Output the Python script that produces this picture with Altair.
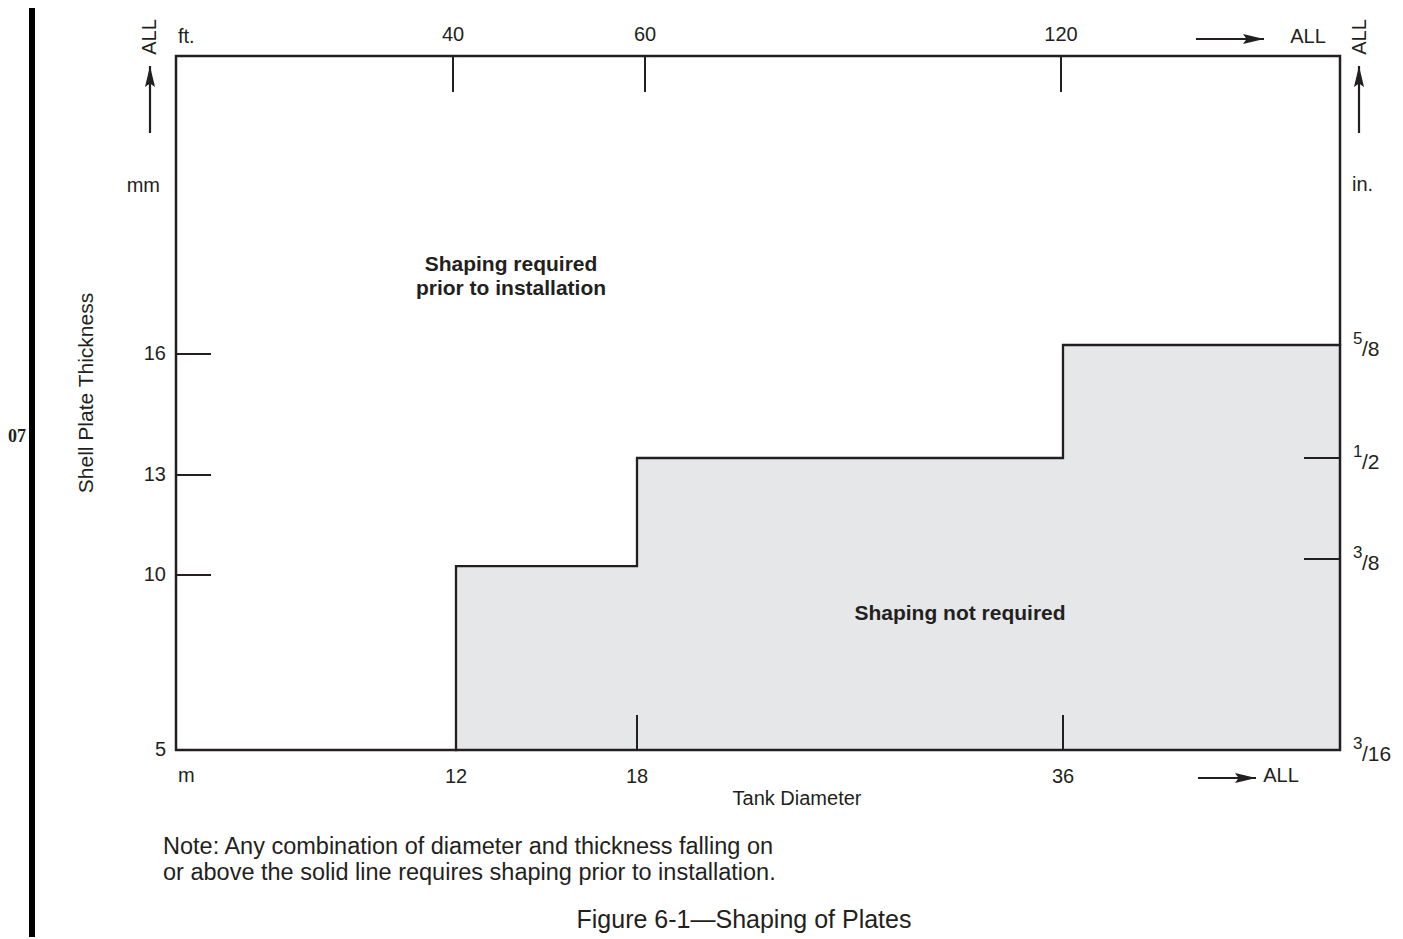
import altair as alt
import pandas as pd

# ---------------- data ----------------
DIAM_ALL_M = 48          # stand-in value for the "ALL" end of the diameter axis (m)
DIAM_ALL_FT = 160        # same for the ft scale
THICK_ALL_IN = 1.0       # stand-in value for the "ALL" end of the thickness axis (in.)
THICK_ALL_MM = 25        # same for the mm scale

DIAM_LABELS_M = [12, 18, 36]
DIAM_TICKS_M = [18, 36]
DIAM_LABELS_FT = [40, 60, 120]
THICK_LABELS_MM = [5, 10, 13, 16]
THICK_TICKS_MM = [10, 13, 16]
THICK_IN_NUM = ["3", "3", "1", "5"]
THICK_IN_DEN = ["/16", "/8", "/2", "/8"]
THICK_IN_VAL = [0.1875, 0.375, 0.5, 0.625]
THICK_TICKS_IN = [0.375, 0.5]

STEP_START_M = [12, 18, 36]
STEP_END_M = [18, 36, DIAM_ALL_M]
STEP_THICK_IN = [0.368, 0.5, 0.625]

REGION_ABOVE = "Shaping required\nprior to installation"
REGION_BELOW = "Shaping not required"
X_TITLE = "Tank Diameter"
Y_TITLE = "Shell Plate Thickness"
NOTE = ("Note: Any combination of diameter and thickness falling on\n"
        "or above the solid line requires shaping prior to installation.")
CAPTION = "Figure  6-1\u2014Shaping of Plates"
REV_MARK = "07"

# ---------------- styling ----------------
INK = "#231f20"
FILL = "#e6e7e8"
SANS = "Liberation Sans"
W, H = 1164, 694

# piecewise scales (the figure's axes are not uniform)
x_m = alt.Scale(domain=[0, 12, 18, 36, DIAM_ALL_M], range=[0, 280, 461, 887, W], zero=False, nice=False)
x_ft = alt.Scale(domain=[0, 40, 60, 120, DIAM_ALL_FT], range=[0, 277, 469, 885, W], zero=False, nice=False)
y_in = alt.Scale(domain=[0.1875, 0.375, 0.5, 0.625, THICK_ALL_IN], range=[H, 503, 402, 289, 0], zero=False, nice=False)
y_mm = alt.Scale(domain=[5, 10, 13, 16, THICK_ALL_MM], range=[H, 519, 419, 298, 0], zero=False, nice=False)

BASE = THICK_IN_VAL[0]

steps = pd.DataFrame({"x": STEP_START_M, "x2": STEP_END_M, "y": STEP_THICK_IN, "base": [BASE] * 3})

pts_x, pts_y = [STEP_START_M[0]], [BASE]
for s, e, t in zip(STEP_START_M, STEP_END_M, STEP_THICK_IN):
    pts_x += [s, e]
    pts_y += [t, t]
outline = pd.DataFrame({"x": pts_x, "y": pts_y, "i": range(len(pts_x))})

frame = pd.DataFrame({"x": [0], "x2": [DIAM_ALL_M], "y": [BASE], "y2": [THICK_ALL_IN]})

layers = []

# grey region
layers.append(alt.Chart(steps).mark_rect(color=FILL).encode(
    x=alt.X("x:Q", scale=x_m, axis=None), x2="x2:Q",
    y=alt.Y("y:Q", scale=y_in, axis=None), y2="base:Q"))

# step line
layers.append(alt.Chart(outline).mark_line(color=INK, strokeWidth=2.3, strokeJoin="miter", strokeCap="square").encode(
    x=alt.X("x:Q", scale=x_m, axis=None),
    y=alt.Y("y:Q", scale=y_in, axis=None), order="i:Q"))

# ticks
layers.append(alt.Chart(pd.DataFrame({"v": DIAM_LABELS_FT})).mark_rule(color=INK, strokeWidth=2).encode(
    x=alt.X("v:Q", scale=x_ft, axis=None), y=alt.value(0), y2=alt.value(36)))
layers.append(alt.Chart(pd.DataFrame({"v": DIAM_TICKS_M})).mark_rule(color=INK, strokeWidth=2).encode(
    x=alt.X("v:Q", scale=x_m, axis=None), y=alt.value(H - 35), y2=alt.value(H)))
layers.append(alt.Chart(pd.DataFrame({"v": THICK_TICKS_MM})).mark_rule(color=INK, strokeWidth=2).encode(
    y=alt.Y("v:Q", scale=y_mm, axis=None), x=alt.value(0), x2=alt.value(35)))
layers.append(alt.Chart(pd.DataFrame({"v": THICK_TICKS_IN})).mark_rule(color=INK, strokeWidth=2).encode(
    y=alt.Y("v:Q", scale=y_in, axis=None), x=alt.value(W - 36), x2=alt.value(W)))

# frame
layers.append(alt.Chart(frame).mark_rect(filled=False, stroke=INK, strokeWidth=2.5).encode(
    x=alt.X("x:Q", scale=x_m, axis=None), x2="x2:Q",
    y=alt.Y("y:Q", scale=y_in, axis=None), y2="y2:Q"))

# tick labels
layers.append(alt.Chart(pd.DataFrame({"v": DIAM_LABELS_FT})).mark_text(font=SANS, fontSize=20, color=INK, baseline="middle").encode(
    x=alt.X("v:Q", scale=x_ft, axis=None), y=alt.value(-21), text="v:Q"))
layers.append(alt.Chart(pd.DataFrame({"v": DIAM_LABELS_M})).mark_text(font=SANS, fontSize=20, color=INK, baseline="middle").encode(
    x=alt.X("v:Q", scale=x_m, axis=None), y=alt.value(H + 27), text="v:Q"))
layers.append(alt.Chart(pd.DataFrame({"v": THICK_LABELS_MM})).mark_text(font=SANS, fontSize=20, color=INK, baseline="middle", align="right").encode(
    y=alt.Y("v:Q", scale=y_mm, axis=None), x=alt.value(-10), text="v:Q"))
inch = pd.DataFrame({"v": THICK_IN_VAL, "n": THICK_IN_NUM, "d": THICK_IN_DEN})
layers.append(alt.Chart(inch).mark_text(font=SANS, fontSize=17, color=INK, baseline="middle", align="left", dy=-6).encode(
    y=alt.Y("v:Q", scale=y_in, axis=None), x=alt.value(W + 13), text="n:N"))
layers.append(alt.Chart(inch).mark_text(font=SANS, fontSize=21, color=INK, baseline="middle", align="left", dy=5).encode(
    y=alt.Y("v:Q", scale=y_in, axis=None), x=alt.value(W + 22), text="d:N"))


def txt(text, x, y, size=20, align="center", angle=0, weight="normal", font=SANS, lh=None):
    kw = dict(font=font, fontSize=size, color=INK, align=align, baseline="middle",
              fontWeight=weight, angle=angle, lineBreak="\n")
    if lh:
        kw["lineHeight"] = lh
    return alt.Chart(pd.DataFrame({"t": [text]})).mark_text(**kw).encode(
        x=alt.value(x), y=alt.value(y), text="t:N")


def arrow(x1, y1, x2, y2, angle):
    shaft = alt.Chart(pd.DataFrame({"a": [0]})).mark_rule(color=INK, strokeWidth=2.2).encode(
        x=alt.value(x1), x2=alt.value(x2), y=alt.value(y1), y2=alt.value(y2))
    r = 12
    if angle == 0:
        hx, hy = x2, y2 + r
    else:
        hx, hy = x2 - r, y2
    head = alt.Chart(pd.DataFrame({"a": [0]})).mark_point(
        shape="M0,-1L0.42,0.75L0,0.45L-0.42,0.75Z", filled=True, color=INK, opacity=1,
        size=(2 * r) ** 2, angle=angle, strokeWidth=0).encode(x=alt.value(hx), y=alt.value(hy))
    return [shaft, head]


# unit labels and "ALL" markers
layers.append(txt("ft.", 2, -19, align="left"))
layers.append(txt("m", 2, H + 26, align="left"))
layers.append(txt("mm", -16, 130, align="right"))
layers.append(txt("in.", W + 12, 129, align="left"))
layers.append(txt("ALL", -26, -19, angle=270))
layers.append(txt("ALL", W + 20, -19, angle=270))
layers.append(txt("ALL", W - 32, -19))
layers.append(txt("ALL", W - 59, H + 26))
layers += arrow(-26, 77, -26, 10, 0)
layers += arrow(W + 19, 77, W + 19, 10, 0)
layers += arrow(1020, -17, 1088, -17, 90)
layers += arrow(1022, H + 28, 1080, H + 28, 90)

# titles and annotations
layers.append(txt(X_TITLE, 621, H + 49))
layers.append(txt(Y_TITLE, -89, 337, size=21, angle=270))
layers.append(txt(REGION_ABOVE, 335, 209, size=21, weight="bold", lh=24))
layers.append(txt(REGION_BELOW, 784, 558, size=21, weight="bold"))
layers.append(txt(NOTE, -13, 791, size=23.5, align="left", lh=26))
layers.append(txt(CAPTION, 568, 864, size=25))
layers.append(txt(REV_MARK, -159, 381, size=18, weight="bold", font="Liberation Serif"))

# revision bar
layers.append(alt.Chart(pd.DataFrame({"a": [0]})).mark_rect(color="#000000").encode(
    x=alt.value(-147), x2=alt.value(-141), y=alt.value(-48), y2=alt.value(H + 200)))

chart = alt.layer(*layers).resolve_scale(x="independent", y="independent").properties(
    width=W, height=H,
    padding={"left": 168, "top": 48, "right": 55, "bottom": 187},
    autosize=alt.AutoSizeParams(type="none"),
    background="white",
).configure_view(stroke=None)

chart.save("out.html", embed_options={"renderer": "svg", "actions": False})
